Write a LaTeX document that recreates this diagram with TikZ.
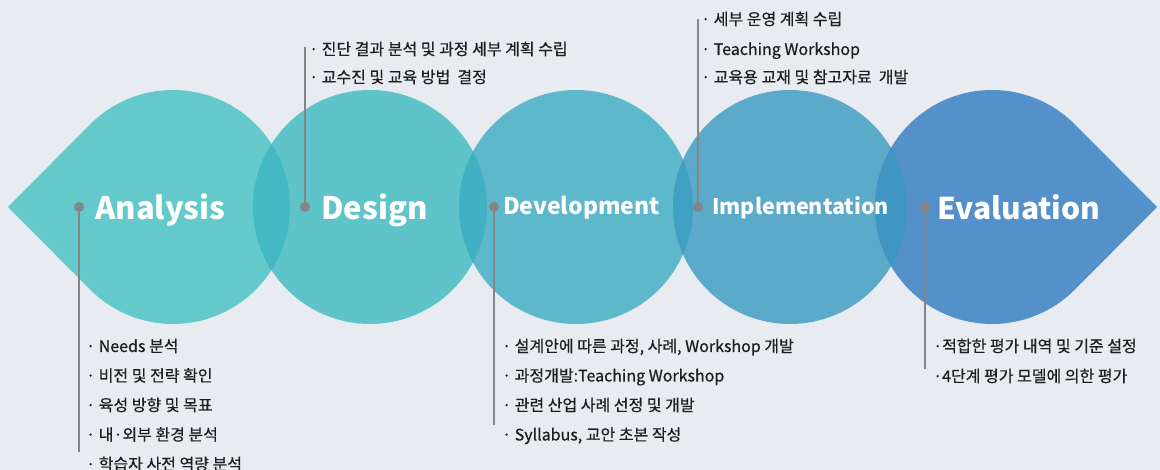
\documentclass[tikz,border=0pt]{standalone}
\usepackage{fontspec}
\usetikzlibrary{calc}
\setmainfont{Noto Sans CJK KR}
\newfontfamily\itemfont[FakeBold=0.6]{Noto Sans CJK KR}
\definecolor{bgc}{HTML}{E8ECF0}
\definecolor{cA}{HTML}{63C9CB}
\definecolor{cD}{HTML}{5FC4C9}
\definecolor{cV}{HTML}{5CB8CA}
\definecolor{cI}{HTML}{5BAAC9}
\definecolor{cE}{HTML}{5490C9}
\definecolor{oAD}{HTML}{45B9C1}
\definecolor{oDV}{HTML}{42B0C3}
\definecolor{oVI}{HTML}{41A1C4}
\definecolor{oIE}{HTML}{3F96C3}
\definecolor{linec}{HTML}{858585}
\definecolor{txt}{HTML}{1E1E1E}
\tikzset{
  title/.style={anchor=base west, text=white, font=\bfseries, inner sep=0pt},
  item/.style={anchor=base west, text=txt, font=\itemfont\fontsize{16}{18}\selectfont, inner sep=0pt},
  dotnode/.style={circle, fill=linec, minimum size=10pt, inner sep=0pt},
  leader/.style={draw=linec, line width=2.8pt},
}
\begin{document}
\begin{tikzpicture}[x=1pt,y=1pt]
\useasboundingbox (0,0) rectangle (1160,470);
\fill[bgc] (0,0) rectangle (1160,470);
% shapes
\fill[cA] (8,263) -- ($(173,263)+(135.2:117)$) arc[start angle=135.2,end angle=-135.2,radius=117] -- cycle;
\fill[cD] (370,263) circle[radius=117];
\fill[cV] (576,263) circle[radius=117];
\fill[cI] (790,263) circle[radius=117];
\fill[cE] (1157,263) -- ($(992,263)+(44.8:117)$) arc[start angle=44.8,end angle=315.2,radius=117] -- cycle;
% overlaps
\begin{scope}\clip (173,263) circle[radius=117]; \fill[oAD] (370,263) circle[radius=117];\end{scope}
\begin{scope}\clip (370,263) circle[radius=117]; \fill[oDV] (576,263) circle[radius=117];\end{scope}
\begin{scope}\clip (576,263) circle[radius=117]; \fill[oVI] (790,263) circle[radius=117];\end{scope}
\begin{scope}\clip (790,263) circle[radius=117]; \fill[oIE] (992,263) circle[radius=117];\end{scope}
% leaders and dots
\coordinate (endA) at (79,18);
\coordinate (endD) at (305,423);
\coordinate (endV) at (494,45);
\coordinate (endI) at (698,451);
\coordinate (endE) at (925,101);
\node[dotnode] (dA) at (79,263) {};
\node[dotnode] (dD) at (305,263) {};
\node[dotnode] (dV) at (494,263) {};
\node[dotnode] (dI) at (698,263) {};
\node[dotnode] (dE) at (925,263) {};
\draw[leader] (dA.center) -- (endA);
\draw[leader] (dD.center) -- (endD);
\draw[leader] (dV.center) -- (endV);
\draw[leader] (dI.center) -- (endI);
\draw[leader] (dE.center) -- (endE);
% titles
\node[title, font=\bfseries\fontsize{31}{33}\selectfont] (tA) at (95,250) {Analysis};
\node[title, font=\bfseries\fontsize{31}{33}\selectfont] (tD) at (321,250) {Design};
\node[title, font=\bfseries\fontsize{23}{26}\selectfont] (tV) at (503,255) {Development};
\node[title, font=\bfseries\fontsize{21.5}{24}\selectfont] (tI) at (712,255) {Implementation};
\node[title, font=\bfseries\fontsize{30}{32}\selectfont] (tE) at (937,250) {Evaluation};
% lists
\node[item] (a1) at (86,118) {· Needs 분석};
\node[item] (a2) at (86,88.5) {· 비전 및 전략 확인};
\node[item] (a3) at (86,59) {· 육성 방향 및 목표};
\node[item] (a4) at (86,29.5) {· 내·외부 환경 분석};
\node[item] (a5) at (86,0) {· 학습자 사전 역량 분석};
\node[item] (d1) at (309,415) {· 진단 결과 분석 및 과정 세부 계획 수립};
\node[item] (d2) at (309,387) {· 교수진 및 교육 방법\ \ 결정};
\node[item] (v1) at (502,118) {· 설계안에 따른 과정, 사례, Workshop 개발};
\node[item] (v2) at (502,88.5) {· 과정개발:Teaching Workshop};
\node[item] (v3) at (502,59) {· 관련 산업 사례 선정 및 개발};
\node[item] (v4) at (502,29.5) {· Syllabus, 교안 초본 작성};
\node[item] (i1) at (701,445) {· 세부 운영 계획 수립};
\node[item] (i2) at (701,415) {· Teaching Workshop};
\node[item] (i3) at (701,387) {· 교육용 교재 및 참고자료\ \ 개발};
\node[item] (e1) at (933,118) {·적합한 평가 내역 및 기준 설정};
\node[item] (e2) at (933,88) {·4단계 평가 모델에 의한 평가};
\end{tikzpicture}
\end{document}
